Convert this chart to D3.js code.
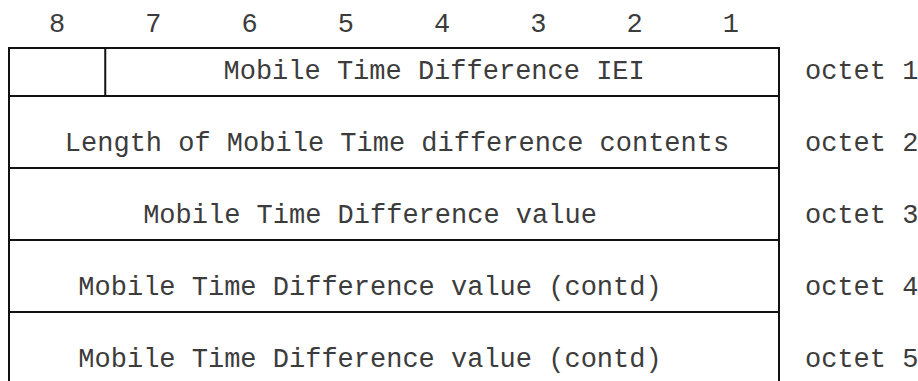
<!DOCTYPE html>
<html>
<head>
<meta charset="utf-8">
<script src="https://cdn.jsdelivr.net/npm/d3@7"></script>
<style>
  html, body { margin: 0; padding: 0; background: #fff; }
  svg { display: block; }
  text { font-family: "Liberation Mono", "Courier New", monospace; fill: #3c3c3c; }
</style>
</head>
<body>
<svg id="chart" width="918" height="381"></svg>
<script>
// ---- data ----
const bits = ["8", "7", "6", "5", "4", "3", "2", "1"];
const rowLabels = [
  "Mobile Time Difference IEI",
  "Length of Mobile Time difference contents",
  "Mobile Time Difference value",
  "Mobile Time Difference value (contd)",
  "Mobile Time Difference value (contd)"
];
const octetLabels = ["octet 1", "octet 2", "octet 3", "octet 4", "octet 5"];
const rowUnits = [2, 3, 3, 3, 3];              // relative row heights
const rowStartBit = ["7", "8", "8", "8", "8"]; // first bit column the field spans

// ---- layout ----
const svg = d3.select("#chart");
const leftX = 9, rightX = 779, topY = 48, unitPx = 24;
const fontSize = 27;
const labelShift = [-8, 3, -24, -24, -24]; // horizontal text offsets (layout)

const x = d3.scaleBand().domain(bits).range([leftX, rightX]);
const cum = [0];
rowUnits.forEach(u => cum.push(cum[cum.length - 1] + u));
const y = d3.scaleLinear().domain([0, 1]).range([topY, topY + unitPx]);

// bit header
svg.append("g").selectAll("text").data(bits).join("text")
  .attr("x", d => x(d) + x.bandwidth() / 2)
  .attr("y", 32)
  .attr("text-anchor", "middle")
  .attr("font-size", fontSize)
  .text(d => d);

const lineColor = "#111";
const g = svg.append("g");

// horizontal lines (tops of rows)
g.selectAll("line.h").data(rowUnits).join("line")
  .attr("class", "h")
  .attr("x1", leftX).attr("x2", rightX)
  .attr("y1", (d, i) => y(cum[i])).attr("y2", (d, i) => y(cum[i]))
  .attr("stroke", lineColor).attr("stroke-width", 2);

// outer verticals
[leftX, rightX].forEach(xv => {
  g.append("line")
    .attr("x1", xv).attr("x2", xv)
    .attr("y1", topY - 1).attr("y2", 381)
    .attr("stroke", lineColor).attr("stroke-width", 2);
});

// internal dividers where a field does not start at bit 8
rowLabels.forEach((lab, i) => {
  const sb = rowStartBit[i];
  if (sb !== bits[0]) {
    g.append("line")
      .attr("x1", x(sb)).attr("x2", x(sb))
      .attr("y1", y(cum[i])).attr("y2", y(cum[i + 1]))
      .attr("stroke", lineColor).attr("stroke-width", 2);
  }
});

// field labels
svg.append("g").selectAll("text").data(rowLabels).join("text")
  .attr("x", (d, i) => (x(rowStartBit[i]) + rightX) / 2 + labelShift[i])
  .attr("y", (d, i) => y(cum[i + 1]) - 17)
  .attr("text-anchor", "middle")
  .attr("font-size", fontSize)
  .text(d => d);

// octet labels
svg.append("g").selectAll("text").data(octetLabels).join("text")
  .attr("x", 805)
  .attr("y", (d, i) => y(cum[i + 1]) - 17)
  .attr("font-size", fontSize)
  .text(d => d);
</script>
</body>
</html>
